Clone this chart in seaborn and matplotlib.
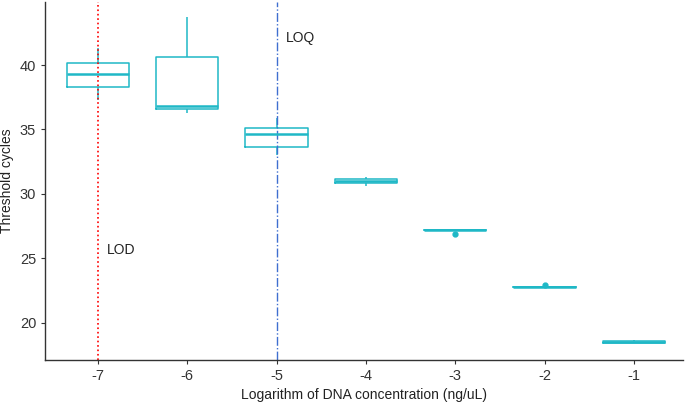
import seaborn as sns
import matplotlib.pyplot as plt
import pandas as pd

# Ct values per log10 DNA concentration
log_conc = [-7, -6, -5, -4, -3, -2, -1]
ct_m7 = [37.3, 38.3, 39.3, 40.2, 41.3]
ct_m6 = [36.3, 36.6, 36.8, 40.6, 43.7]
ct_m5 = [33.0, 33.6, 34.65, 35.1, 35.9]
ct_m4 = [30.6, 30.85, 31.0, 31.15, 31.3]
ct_m3 = [27.2, 27.2, 27.2, 27.2, 26.9]
ct_m2 = [22.75, 22.75, 22.75, 22.75, 22.95]
ct_m1 = [18.4, 18.45, 18.5, 18.6, 18.65]

lod_x = -7
loq_x = -5

rows = []
for c, vals in zip(log_conc, [ct_m7, ct_m6, ct_m5, ct_m4, ct_m3, ct_m2, ct_m1]):
    for v in vals:
        rows.append({"conc": c, "ct": v})
df = pd.DataFrame(rows)

sns.set_style("ticks")
plt.rcParams["font.family"] = ["Liberation Sans", "DejaVu Sans"]

fig = plt.figure(figsize=(6.85, 4.03), dpi=100)
ax = fig.add_axes([0.066, 0.107, 0.931, 0.888])

box_col = "#1FB8C6"
sns.boxplot(data=df, x="conc", y="ct", native_scale=True, width=0.7,
            fill=False, color=box_col, linewidth=1.1, ax=ax, showcaps=False,
            medianprops={"linewidth": 1.8},
            flierprops={"marker": "o", "markersize": 3.5,
                        "markerfacecolor": box_col, "markeredgecolor": box_col})

ax.axvline(lod_x, color="red", linestyle=":", linewidth=1.2)
ax.axvline(loq_x, color="#3F6FD0", linestyle="-.", linewidth=1.0)
ax.text(-6.9, 25.6, "LOD", fontsize=10, va="center", color="#222222")
ax.text(-4.9, 42.1, "LOQ", fontsize=10, va="center", color="#222222")

ax.set_xlim(-7.59, -0.45)
ax.set_ylim(17.1, 44.9)
ax.set_xticks(log_conc)
ax.set_xticklabels([str(c) for c in log_conc])
ax.set_yticks([20, 25, 30, 35, 40])
ax.set_xlabel("Logarithm of DNA concentration (ng/uL)", fontsize=10, color="#222222")
ax.set_ylabel("Threshold cycles", fontsize=10, color="#222222")
ax.tick_params(labelsize=10.5, colors="#333333", length=3)
for s in ["left", "bottom"]:
    ax.spines[s].set_color("#333333")
    ax.spines[s].set_linewidth(1.0)
sns.despine(ax=ax)

fig.savefig("out.png", dpi=100)
